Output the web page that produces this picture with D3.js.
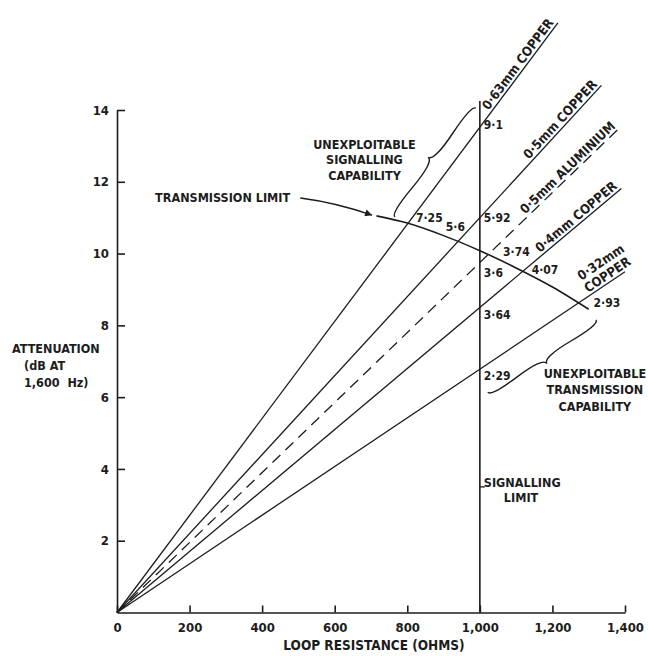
<!DOCTYPE html>
<html><head><meta charset="utf-8">
<script src="https://cdn.jsdelivr.net/npm/d3@7"></script>
<style>
html,body{margin:0;padding:0;background:#fff;}
svg text{font-family:"DejaVu Sans Condensed","DejaVu Sans",sans-serif;font-weight:bold;fill:#1c1c1c;}
</style></head><body>
<svg id="c" width="648" height="656"></svg>
<script>
// ---------- data ----------
const xTicks = [0, 200, 400, 600, 800, 1000, 1200, 1400];
const yTicks = [2, 4, 6, 8, 10, 12, 14];
const cables = ["0·63mm COPPER", "0·5mm COPPER", "0·5mm ALUMINIUM", "0·4mm COPPER", "0·32mm COPPER"];
const dbPer1000 = [13.52, 11.0, 9.75, 8.5, 6.78];      // attenuation (dB) at 1,000 ohms
const lineEndOhms = [1215, 1335, 1385, 1390, 1400];
const dashed = [false, false, true, false, false];
const signallingKm = ["9·1", "5·92", "3·6", "3·64", "2·29"];
const transmissionKm = ["7·25", "5·6", "3·74", "4·07", "2·93"];
const limitOhms = [715, 800, 900, 1000, 1100, 1200, 1300];
const limitDb = [11.05, 10.85, 10.5, 10.08, 9.6, 9.07, 8.45];
const signallingLimitOhms = 1000;
const signallingLimitTop = 14.25;

// ---------- layout ----------
const svg = d3.select("#c");
const ink = "#1c1c1c";
const x = d3.scaleLinear().domain([0, 1400]).range([117, 625]);
const y = d3.scaleLinear().domain([0, 14]).range([612.5, 110]);

// axes
const gx = svg.append("g").attr("transform", `translate(0,${y(0)})`)
  .call(d3.axisBottom(x).tickValues(xTicks).tickSize(-7).tickSizeOuter(0).tickPadding(10).tickFormat(d3.format(",")));
gx.attr("font-size", 13);
gx.selectAll("line,path").attr("stroke", ink).attr("stroke-width", 1.6);
gx.selectAll("text").attr("fill", ink);

const gy = svg.append("g").attr("transform", `translate(${x(0)},0)`)
  .call(d3.axisLeft(y).tickValues(yTicks).tickSize(-8).tickSizeOuter(0).tickPadding(8));
gy.attr("font-size", 13);
gy.selectAll("line,path").attr("stroke", ink).attr("stroke-width", 1.6);
gy.selectAll("text").attr("fill", ink);

// axis titles
svg.append("text").attr("x", 374).attr("y", 650).attr("text-anchor", "middle")
  .attr("font-size", 13.5).text("LOOP RESISTANCE (OHMS)");
const yt = svg.append("g").attr("font-size", 12.5);
yt.append("text").attr("x", 12).attr("y", 353).text("ATTENUATION");
yt.append("text").attr("x", 24).attr("y", 370).text("(dB AT");
yt.append("text").attr("x", 24).attr("y", 387).attr("xml:space", "preserve").text("1,600  Hz)");

// signalling limit
svg.append("line").attr("x1", x(signallingLimitOhms)).attr("x2", x(signallingLimitOhms))
  .attr("y1", y(0)).attr("y2", y(signallingLimitTop)).attr("stroke", ink).attr("stroke-width", 1.6);

// cable lines
const cableData = cables.map((c, i) => ({name: c, s: dbPer1000[i], end: lineEndOhms[i], dash: dashed[i], i}));
const lineGen = d3.line().x(d => x(d[0])).y(d => y(d[1]));
svg.selectAll(".cable").data(cableData).join("path")
  .attr("d", d => lineGen([[0, 0], [d.end, d.s * d.end / 1000]]))
  .attr("fill", "none").attr("stroke", ink).attr("stroke-width", 1.3)
  .attr("stroke-dasharray", d => d.dash ? "11,7" : null);

// transmission limit curve
const limitPts = limitOhms.map((o, i) => [o, limitDb[i]]);
svg.append("path").attr("d", d3.line().x(d => x(d[0])).y(d => y(d[1])).curve(d3.curveMonotoneX)(limitPts))
  .attr("fill", "none").attr("stroke", ink).attr("stroke-width", 1.6);

// intersection of a cable with the transmission limit (linear interpolation)
function limitAt(o) {
  for (let k = 0; k < limitOhms.length - 1; k++) {
    if (o >= limitOhms[k] && o <= limitOhms[k + 1]) {
      const t = (o - limitOhms[k]) / (limitOhms[k + 1] - limitOhms[k]);
      return limitDb[k] + t * (limitDb[k + 1] - limitDb[k]);
    }
  }
  return NaN;
}
function crossing(s) {
  let lo = limitOhms[0], hi = limitOhms[limitOhms.length - 1];
  for (let k = 0; k < 60; k++) {
    const m = (lo + hi) / 2;
    if (s * m / 1000 < limitAt(m)) lo = m; else hi = m;
  }
  return [lo, s * lo / 1000];
}

// labels at signalling limit
const sigNudge = [-2, 0, 10, 8, 7];
svg.selectAll(".sig").data(cableData).join("text")
  .attr("x", x(signallingLimitOhms) + 4)
  .attr("y", d => y(d.s) + sigNudge[d.i])
  .attr("dominant-baseline", "central").attr("font-size", 12)
  .text(d => signallingKm[d.i]);

// labels at transmission limit
const trNudge = [[8, -5, "start"], [7, -15, "end"], [15, -3, "start"], [9, -1, "start"], [15, 0, "start"]];
svg.selectAll(".tr").data(cableData).join("text")
  .each(function (d) {
    const c = crossing(d.s);
    const n = trNudge[d.i];
    d3.select(this).attr("x", x(c[0]) + n[0]).attr("y", y(c[1]) + n[1]).attr("text-anchor", n[2]);
  })
  .attr("dominant-baseline", "central").attr("font-size", 12)
  .text(d => transmissionKm[d.i]);

// cable name labels along the lines
cableData.forEach(d => {
  const ex = x(d.end), ey = y(d.s * d.end / 1000);
  const ang = Math.atan2(ey - y(0), ex - x(0)) * 180 / Math.PI;
  const g = svg.append("g").attr("transform", `translate(${ex},${ey}) rotate(${ang})`).attr("font-size", 13);
  if (d.i === 4) {
    g.append("text").attr("x", 10).attr("y", -3).attr("text-anchor", "end").text("COPPER");
    g.append("text").attr("x", 12).attr("y", -17).attr("text-anchor", "end").text("0·32mm");
  } else {
    g.append("text").attr("x", -2).attr("y", -3).attr("text-anchor", "end").text(d.name);
  }
});

// curly brace
function brace(x1, y1, x2, y2, w, q) {
  let dx = x1 - x2, dy = y1 - y2;
  const len = Math.hypot(dx, dy);
  dx /= len; dy /= len;
  const qx1 = x1 + q * w * dy, qy1 = y1 - q * w * dx;
  const qx2 = (x1 - .25 * len * dx) + (1 - q) * w * dy, qy2 = (y1 - .25 * len * dy) - (1 - q) * w * dx;
  const tx1 = (x1 - .5 * len * dx) + w * dy, ty1 = (y1 - .5 * len * dy) - w * dx;
  const qx3 = x2 + q * w * dy, qy3 = y2 - q * w * dx;
  const qx4 = (x1 - .75 * len * dx) + (1 - q) * w * dy, qy4 = (y1 - .75 * len * dy) - (1 - q) * w * dx;
  return `M${x1},${y1}Q${qx1},${qy1} ${qx2},${qy2}T${tx1},${ty1}M${x2},${y2}Q${qx3},${qy3} ${qx4},${qy4}T${tx1},${ty1}`;
}
const braces = [
  {a: [766, 11.02], b: [989, 14.05], w: -9},
  {a: [1022, 6.14], b: [1320, 8.15], w: 9}
];
braces.forEach(bz => {
  svg.append("path").attr("d", brace(x(bz.a[0]), y(bz.a[1]), x(bz.b[0]), y(bz.b[1]), bz.w, 0.6))
    .attr("fill", "none").attr("stroke", ink).attr("stroke-width", 1.4);
});

// annotation texts
function block(lines, ox, od, spacing, size) {
  const g = svg.append("g").attr("font-size", size);
  lines.forEach((t, k) => g.append("text").attr("x", x(ox)).attr("y", y(od) + (k - 1) * spacing)
    .attr("text-anchor", "middle").attr("dominant-baseline", "central").text(t));
}
block(["UNEXPLOITABLE", "SIGNALLING", "CAPABILITY"], 682, 12.62, 15.5, 12.5);
block(["UNEXPLOITABLE", "TRANSMISSION", "CAPABILITY"], 1317, 6.2, 16.5, 12.5);

svg.append("text").attr("x", x(105)).attr("y", y(11.57)).attr("dominant-baseline", "central")
  .attr("font-size", 12.5).text("TRANSMISSION LIMIT");

// arrow
svg.append("defs").append("marker").attr("id", "ah").attr("viewBox", "0 0 10 10")
  .attr("refX", 10).attr("refY", 5).attr("markerWidth", 10).attr("markerHeight", 7)
  .attr("markerUnits", "userSpaceOnUse").attr("orient", "auto")
  .append("path").attr("d", "M0,0L10,5L0,10z").attr("fill", ink);
const a0 = [x(505), y(11.55)], a1 = [x(703), y(11.07)];
svg.append("path").attr("d", `M${a0[0]},${a0[1]}Q${(a0[0] + a1[0]) / 2},${(a0[1] + a1[1]) / 2 - 4} ${a1[0]},${a1[1]}`)
  .attr("fill", "none").attr("stroke", ink).attr("stroke-width", 1.4).attr("marker-end", "url(#ah)");

// signalling limit label
svg.append("line").attr("x1", x(signallingLimitOhms)).attr("x2", x(signallingLimitOhms) + 5)
  .attr("y1", y(3.5)).attr("y2", y(3.5)).attr("stroke", ink).attr("stroke-width", 1.3);
svg.append("text").attr("x", x(signallingLimitOhms) + 4).attr("y", y(3.63)).attr("dominant-baseline", "central")
  .attr("font-size", 12.5).text("SIGNALLING");
svg.append("text").attr("x", x(signallingLimitOhms) + 24).attr("y", y(3.21)).attr("dominant-baseline", "central")
  .attr("font-size", 12.5).text("LIMIT");
</script>
</body></html>
